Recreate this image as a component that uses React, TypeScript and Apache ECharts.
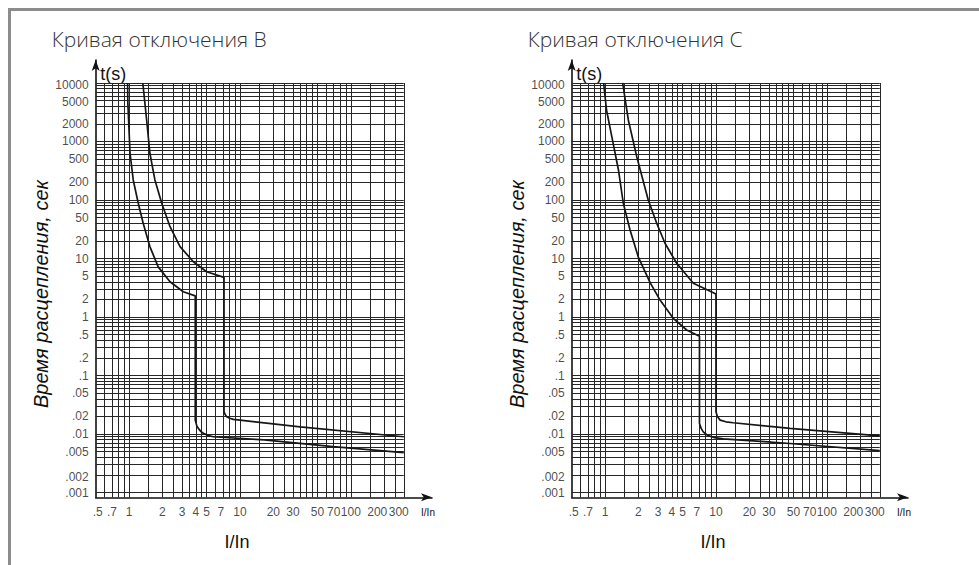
import React, { useEffect, useRef } from 'react';
import * as echarts from 'echarts';

const TITLES = ['Кривая отключения B', 'Кривая отключения C'];
const Y_NAME = 'Время расцепления, сек';
const X_NAME = 'I/In';
const T_NAME = 't(s)';

const xTickValues = [0.5, 0.7, 1, 2, 3, 4, 5, 7, 10, 20, 30, 50, 70, 100, 200, 300];
const xTickLabels = ['.5', '.7', '1', '2', '3', '4', '5', '7', '10', '20', '30', '50', '70', '100', '200', '300'];
const yTickValues = [10000, 5000, 2000, 1000, 500, 200, 100, 50, 20, 10, 5, 2, 1, 0.5, 0.2, 0.1, 0.05, 0.02, 0.01, 0.005, 0.002, 0.001];
const yTickLabels = ['10000', '5000', '2000', '1000', '500', '200', '100', '50', '20', '10', '5', '2', '1', '.5', '.2', '.1', '.05', '.02', '.01', '.005', '.002', '.001'];

const xGridValues = [0.6, 0.7, 0.8, 0.9, 1, 1.5, 2, 2.5, 3, 3.5, 4, 4.5, 5, 6, 7, 8, 9, 10, 15, 20, 25, 30, 35, 40, 45, 50, 60, 70, 80, 90, 100, 150, 200, 250, 300];
const yGridDecades = [0.001, 0.01, 0.1, 1, 10, 100, 1000];
const yGridSteps = [1, 2, 3, 4, 5, 6, 7, 8, 9];

const X_MIN = 0.5;
const X_LIMIT = 300;
const X_AXIS_END = 539;
const Y_MIN = 0.00083;
const Y_LIMIT = 10000;
const Y_AXIS_END = 24700;

// [I/In, t(s)]
const curveBMin = [
  [0.97, 10000], [0.975, 4500], [1.0, 1500], [1.02, 630], [1.09, 220], [1.21, 88], [1.34, 40], [1.54, 16],
  [1.83, 7.2], [2.34, 4.0], [3.08, 2.7], [3.95, 2.3], [3.95, 0.0173], [4.08, 0.0138], [4.21, 0.0125],
  [4.45, 0.011], [4.67, 0.0103], [5.2, 0.0094], [5.75, 0.009], [17.4, 0.0079], [69, 0.0061], [300, 0.0048],
];
const curveBMax = [
  [1.33, 10000], [1.44, 2330], [1.54, 630], [1.71, 220], [1.97, 88], [2.34, 35], [2.88, 16], [3.8, 8.8],
  [5.0, 5.95], [7.18, 4.77], [7.18, 0.024], [7.35, 0.0215], [7.59, 0.0198], [8.1, 0.0186], [8.7, 0.0178],
  [10, 0.0173], [34.8, 0.0133], [300, 0.009],
];
const curveCMin = [
  [0.97, 10000], [1.03, 3450], [1.15, 1210], [1.32, 326], [1.46, 88], [1.68, 30.7], [1.99, 10.7], [2.54, 3.9],
  [3.13, 1.95], [4.12, 0.95], [5.44, 0.6], [7.1, 0.47], [7.1, 0.0152], [7.35, 0.0125], [7.68, 0.0109],
  [8.4, 0.0095], [9.46, 0.0088], [11.6, 0.0083], [46.5, 0.0069], [300, 0.0052],
];
const curveCMax = [
  [1.44, 10000], [1.62, 2330], [1.93, 550], [2.45, 100], [2.92, 40], [3.47, 18.2], [4.42, 8.3], [6.25, 3.77],
  [10, 2.47], [10, 0.024], [10.3, 0.02], [10.9, 0.0173], [12.3, 0.0162], [14.3, 0.0156], [46.5, 0.0125], [300, 0.0093],
];

const FONT_NARROW = "'Liberation Sans Narrow', 'Liberation Sans', Arial, sans-serif";
const FONT_SANS = "'Liberation Sans', Arial, sans-serif";

const GRID_TOP = 52;
const GRID_W = 336.3;
const GRID_H = 437.3;
const PANELS = [
  { left: 87.7, title: TITLES[0], curves: [curveBMin, curveBMax] },
  { left: 563.7, title: TITLES[1], curves: [curveCMin, curveCMax] },
];

const yLabelOffsets: Record<string, number[]> = { '10000': [0, 2], '5000': [0, 1], '.002': [0, 2] };
const xLabelOffsets: Record<string, number[]> = { '.5': [2, 0], '7': [-2, 0], '200': [-7, 0], '300': [-5, 0] };

function buildOption() {
  const yGridValues = [...yGridDecades.flatMap((d) => yGridSteps.map((s) => +(d * s).toPrecision(6))), Y_LIMIT];
  const gridSegments = [
    ...yGridValues.map((v) => [{ coord: [X_MIN, v] }, { coord: [X_LIMIT, v] }]),
    ...xGridValues.map((v) => [{ coord: [v, Y_MIN] }, { coord: [v, Y_LIMIT] }]),
  ];

  const grids: any[] = [];
  const xAxes: any[] = [];
  const yAxes: any[] = [];
  const series: any[] = [];
  const graphics: any[] = [];

  PANELS.forEach((p, i) => {
    grids.push({ left: p.left, top: GRID_TOP, width: GRID_W, height: GRID_H });
    const axisLine = {
      show: true,
      onZero: false,
      symbol: ['none', 'arrow'],
      symbolSize: [6, 11],
      lineStyle: { color: '#111', width: 1.6 },
    };
    xAxes.push({
      type: 'log', logBase: 10, gridIndex: i, min: X_MIN, max: X_AXIS_END,
      axisLine, axisTick: { show: false }, axisLabel: { show: false }, splitLine: { show: false },
    });
    yAxes.push({
      type: 'log', logBase: 10, gridIndex: i, min: Y_MIN, max: Y_AXIS_END,
      axisLine, axisTick: { show: false }, axisLabel: { show: false }, splitLine: { show: false },
    });

    series.push({
      type: 'line', xAxisIndex: i, yAxisIndex: i, data: [], z: 1, silent: true,
      markLine: {
        silent: true, symbol: ['none', 'none'], label: { show: false },
        lineStyle: { color: '#262626', width: 1, type: 'solid', opacity: 1 },
        emphasis: { disabled: true },
        data: gridSegments,
      },
    });

    p.curves.forEach((c) => {
      series.push({
        type: 'line', xAxisIndex: i, yAxisIndex: i, data: c, showSymbol: false, z: 5, silent: true,
        lineStyle: { color: '#161616', width: 1.7 },
      });
    });

    series.push({
      type: 'scatter', xAxisIndex: i, yAxisIndex: i, symbolSize: 0, clip: false, silent: true, z: 6,
      itemStyle: { color: 'transparent' },
      data: yTickValues.map((v, k) => ({
        value: [X_MIN, v],
        label: { offset: yLabelOffsets[yTickLabels[k]] || [0, 0] },
      })),
      label: {
        show: true, position: 'left', distance: 7,
        formatter: (q: any) => yTickLabels[q.dataIndex],
        fontSize: 12, color: '#1a1a1a', fontFamily: FONT_SANS,
      },
    });
    series.push({
      type: 'scatter', xAxisIndex: i, yAxisIndex: i, symbolSize: 0, clip: false, silent: true, z: 6,
      itemStyle: { color: 'transparent' },
      data: xTickValues.map((v, k) => ({
        value: [v, Y_MIN],
        label: { offset: xLabelOffsets[xTickLabels[k]] || [0, 0] },
      })),
      label: {
        show: true, position: 'bottom', distance: 9,
        formatter: (q: any) => xTickLabels[q.dataIndex],
        fontSize: 12, color: '#1a1a1a', fontFamily: FONT_SANS,
      },
    });

    graphics.push(
      {
        type: 'text', x: p.left - 44, y: 30.5, silent: true,
        style: { text: p.title, font: "300 21px 'Open Sans'", fill: '#333', align: 'left', verticalAlign: 'middle' },
      },
      {
        type: 'text', x: p.left + 4.5, y: 66, silent: true,
        style: { text: T_NAME, font: `18px ${FONT_SANS}`, fill: '#111', align: 'left', verticalAlign: 'middle' },
      },
      {
        type: 'text', x: p.left + 332.3, y: 504.7, silent: true,
        style: { text: X_NAME, font: `10px ${FONT_NARROW}`, fill: '#111', align: 'center', verticalAlign: 'middle' },
      },
      {
        type: 'text', x: p.left + 141.3, y: 534, silent: true,
        style: { text: X_NAME, font: `18px ${FONT_NARROW}`, fill: '#111', align: 'center', verticalAlign: 'middle' },
      },
      {
        type: 'text', x: p.left - 54.7, y: 286, rotation: Math.PI / 2, silent: true,
        style: { text: Y_NAME, font: `italic 20px ${FONT_NARROW}`, fill: '#111', align: 'center', verticalAlign: 'middle' },
      },
    );
  });

  graphics.push(
    { type: 'line', silent: true, shape: { x1: 1.5, y1: 0, x2: 1.5, y2: 557 }, style: { stroke: '#8c8c8c', lineWidth: 3 } },
    { type: 'line', silent: true, shape: { x1: 0, y1: 1.5, x2: 971, y2: 1.5 }, style: { stroke: '#8c8c8c', lineWidth: 3 } },
  );

  return {
    animation: false,
    backgroundColor: '#fff',
    grid: grids,
    xAxis: xAxes,
    yAxis: yAxes,
    series,
    graphic: graphics,
  };
}

export default function App() {
  const ref = useRef<HTMLDivElement>(null);
  useEffect(() => {
    const chart = echarts.init(ref.current!, null, { renderer: 'svg' });
    chart.setOption(buildOption());
    return () => chart.dispose();
  }, []);
  return (
    <div
      ref={ref}
      style={{ position: 'fixed', left: 8, top: 8, width: 971, height: 557, background: '#fff' }}
    />
  );
}
